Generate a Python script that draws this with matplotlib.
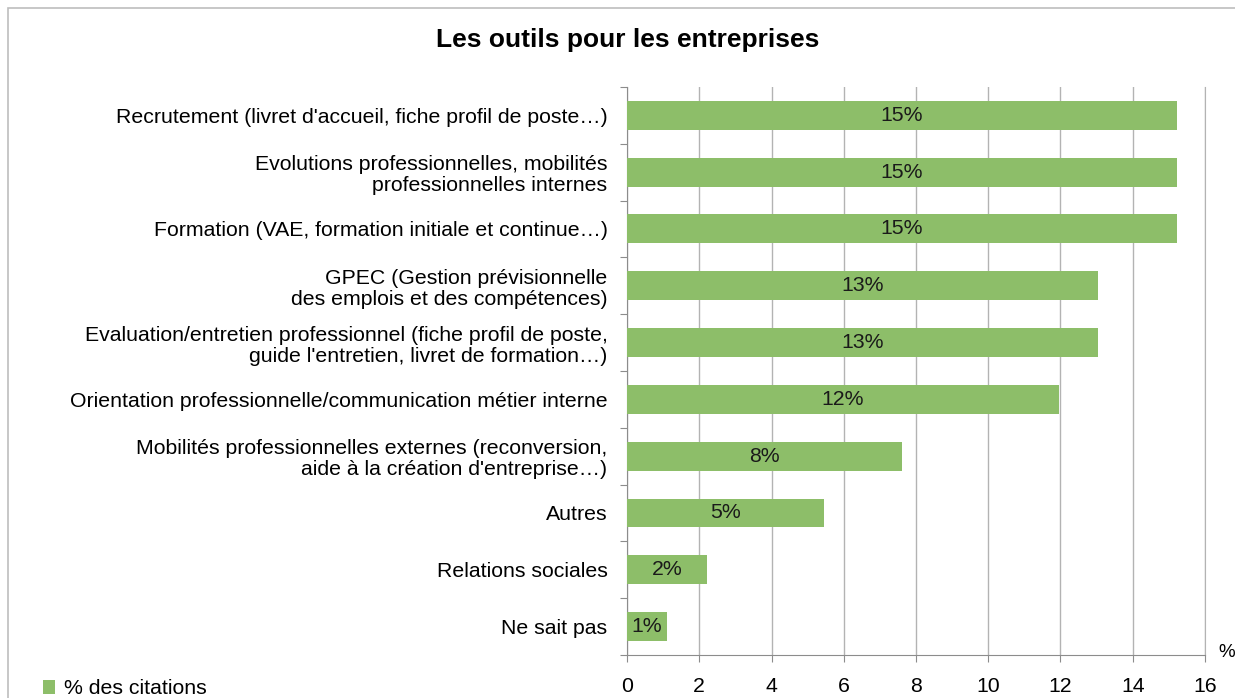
import numpy as np
import matplotlib.pyplot as plt
from matplotlib.patches import Rectangle

plt.rcParams['font.family'] = ['Liberation Sans', 'DejaVu Sans']

# Categories (top to bottom) and share of citations in %
categories = [
    "Recrutement (livret d'accueil, fiche profil de poste\u2026)",
    "Evolutions professionnelles, mobilités\nprofessionnelles internes",
    "Formation (VAE, formation initiale et continue\u2026)",
    "GPEC (Gestion prévisionnelle\ndes emplois et des compétences)",
    "Evaluation/entretien professionnel (fiche profil de poste,\nguide l'entretien, livret de formation\u2026)",
    "Orientation professionnelle/communication métier interne",
    "Mobilités professionnelles externes (reconversion,\naide à la création d'entreprise\u2026)",
    "Autres",
    "Relations sociales",
    "Ne sait pas",
]
values = [15.22, 15.22, 15.22, 13.04, 13.04, 11.96, 7.61, 5.45, 2.21, 1.11]
xticks = [0, 2, 4, 6, 8, 10, 12, 14, 16]

bar_color = '#8DBE69'
grid_color = '#B3B3B3'
axis_color = '#8C8C8C'
fs = 15.3

fig = plt.figure(figsize=(12.35, 6.98), dpi=100)
ax = fig.add_axes([0.5077, 0.0616, 0.4680, 0.8138])

y = np.arange(len(categories))
bars = ax.barh(y, values, height=0.51, color=bar_color, zorder=3,
               label='% des citations')

for yi, v in zip(y, values):
    ax.text(v / 2, yi, f"{v:.0f}%", ha='center', va='center',
            fontsize=fs, color='#1a1a1a', zorder=4)

ax.set_ylim(len(categories) - 0.5, -0.5)
ax.set_xlim(0, 16)
ax.set_xticks(xticks)
ax.set_xticklabels([str(t) for t in xticks], fontsize=fs)

# category boundaries carry the tick marks, centres carry the labels
ax.set_yticks(np.arange(-0.5, len(categories), 1.0))
ax.set_yticklabels([])
ax.set_yticks(y, minor=True)
ax.set_yticklabels(categories, minor=True, fontsize=fs, ha='right',
                   linespacing=1.15)
ax.tick_params(axis='y', which='minor', length=0, pad=14)
ax.tick_params(axis='y', which='major', length=5, color=axis_color)
ax.tick_params(axis='x', length=5, color=axis_color, pad=11)

ax.grid(axis='x', color=grid_color, linewidth=1, zorder=0)
ax.grid(axis='y', visible=False)
ax.spines['top'].set_visible(False)
ax.spines['right'].set_color(grid_color)
ax.spines['left'].set_color(axis_color)
ax.spines['bottom'].set_color(axis_color)

ax.text(1.024, 0.005, '%', transform=ax.transAxes, fontsize=13.5,
        ha='left', va='center')

fig.text(0.508, 0.943, 'Les outils pour les entreprises', ha='center',
         va='center', fontsize=19, fontweight='bold')

fig.legend(handles=[bars], loc='lower left', bbox_to_anchor=(0.019, -0.028),
           frameon=False, fontsize=fs, handlelength=0.6, handleheight=0.6,
           handletextpad=0.4)

fig.patches.append(Rectangle((0.0065, -0.1), 1.1, 1.0885, transform=fig.transFigure,
                             fill=False, edgecolor='#BDBDBD', linewidth=1.2))

fig.savefig('out.png', dpi=100)
